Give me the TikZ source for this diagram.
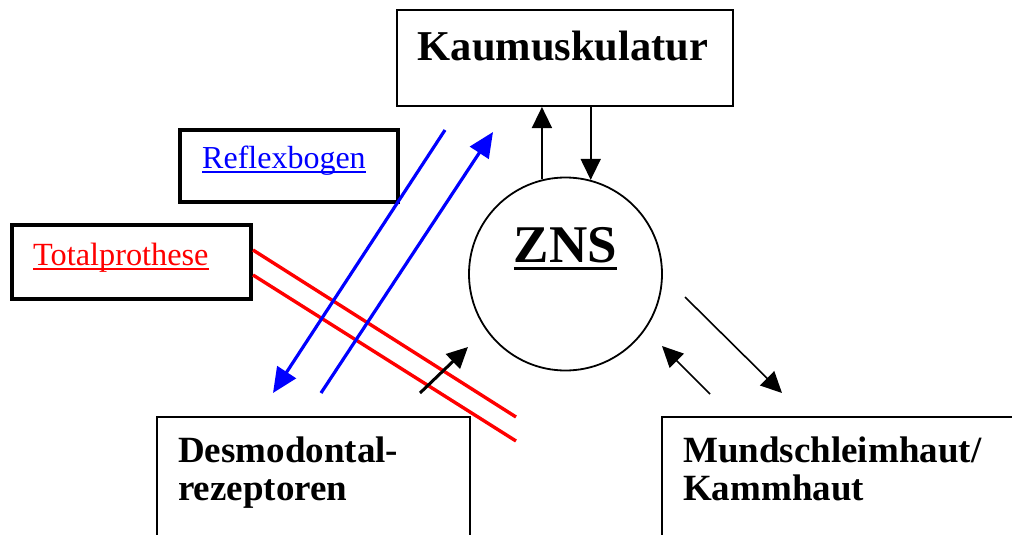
\documentclass[tikz,border=0pt]{standalone}
\usepackage{fontspec}
\setmainfont{Liberation Serif}
\usetikzlibrary{arrows.meta}

\tikzset{
  box/.style={draw=black, line width=2, inner sep=0, fill=none},
  thickbox/.style={draw=black, line width=4, inner sep=0},
  lbl/.style={inner sep=0, anchor=base west, font=\fontsize{37}{40}\selectfont\bfseries},
  thin arrow/.style={draw=black, line width=1.6, -{Triangle[length=21pt,width=20pt]}},
  blue line/.style={draw=blue, line width=3.2},
  red line/.style={draw=red, line width=3.4},
}

\begin{document}
\begin{tikzpicture}[x=1pt,y=-1pt]
\useasboundingbox (0,0) rectangle (1012,535);
\clip (0,0) rectangle (1012,535);

% boxes
\node[box, minimum width=336, minimum height=96] (kau) at (565,58) {};
\node[thickbox, minimum width=218, minimum height=72] (refl) at (289,166) {};
\node[thickbox, minimum width=239, minimum height=74] (tp) at (131.5,262) {};
\node[box, minimum width=313, minimum height=200] (des) at (313.5,517) {};
\node[box, minimum width=420, minimum height=200] (mund) at (872,517) {};
\node[draw=black, line width=1.8, circle, minimum size=193, inner sep=0] (zns) at (565.5,274) {};

% labels
\node[inner sep=0, anchor=base, font=\fontsize{42.5}{45}\selectfont\bfseries] (kauT) at (563,60) {Kaumuskulatur};
\node[inner sep=0, anchor=base, font=\fontsize{53}{56}\selectfont\bfseries] (znsT) at (565.5,262) {ZNS};
\draw[line width=3] ([yshift=-6pt]znsT.base west) -- ([yshift=-6pt]znsT.base east);

\node[inner sep=0, anchor=base west, text=blue, font=\fontsize{32}{36}\selectfont] (reflT) at (202,168) {Reflexbogen};
\draw[blue, line width=2] ([yshift=-4pt]reflT.base west) -- ([yshift=-4pt]reflT.base east);

\node[inner sep=0, anchor=base west, text=red, font=\fontsize{32.3}{36}\selectfont] (tpT) at (33,265) {Totalprothese};
\draw[red, line width=2] ([yshift=-4pt]tpT.base west) -- ([yshift=-4pt]tpT.base east);

\node[lbl] (desA) at (178,462) {Desmodontal-};
\node[lbl] (desB) at (178,500) {rezeptoren};
\node[lbl] (mundA) at (683,462) {Mundschleimhaut/};
\node[lbl] (mundB) at (683,500) {Kammhaut};

% free ends of the connectors
\coordinate (rA) at (516,417);
\coordinate (rB) at (516,441);
\coordinate (bA1) at (445,130);
\coordinate (bA2) at (273,393);
\coordinate (bB1) at (321,393);
\coordinate (bB2) at (493,132);
\coordinate (dA) at (420,393);
\coordinate (dB) at (468,347);
\coordinate (mA) at (685,297);
\coordinate (mB) at (782,393);
\coordinate (mC) at (710,394);
\coordinate (mD) at (662,346);

% red lines from the prosthesis box
\draw[red line] ([yshift=12pt]tp.east) -- (rA);
\draw[red line] ([yshift=-13pt]tp.east) -- (rB);

% reflex arc
\draw[blue line, -{Triangle[length=25pt,width=22pt]}] (bA1) -- (bA2);
\draw[blue line, -{Triangle[length=25pt,width=22pt]}] (bB1) -- (bB2);

% ZNS <-> Kaumuskulatur
\draw[thin arrow] (zns.104) -- (zns.104 |- kau.south);
\draw[thin arrow] (zns.75 |- kau.south) -- (zns.75);

% Desmodontalrezeptoren -> ZNS
\draw[draw=black, line width=3, -{Triangle[length=21pt,width=20pt]}] (dA) -- (dB);

% ZNS <-> Mundschleimhaut
\draw[thin arrow] (mA) -- (mB);
\draw[thin arrow] (mC) -- (mD);
\end{tikzpicture}
\end{document}
